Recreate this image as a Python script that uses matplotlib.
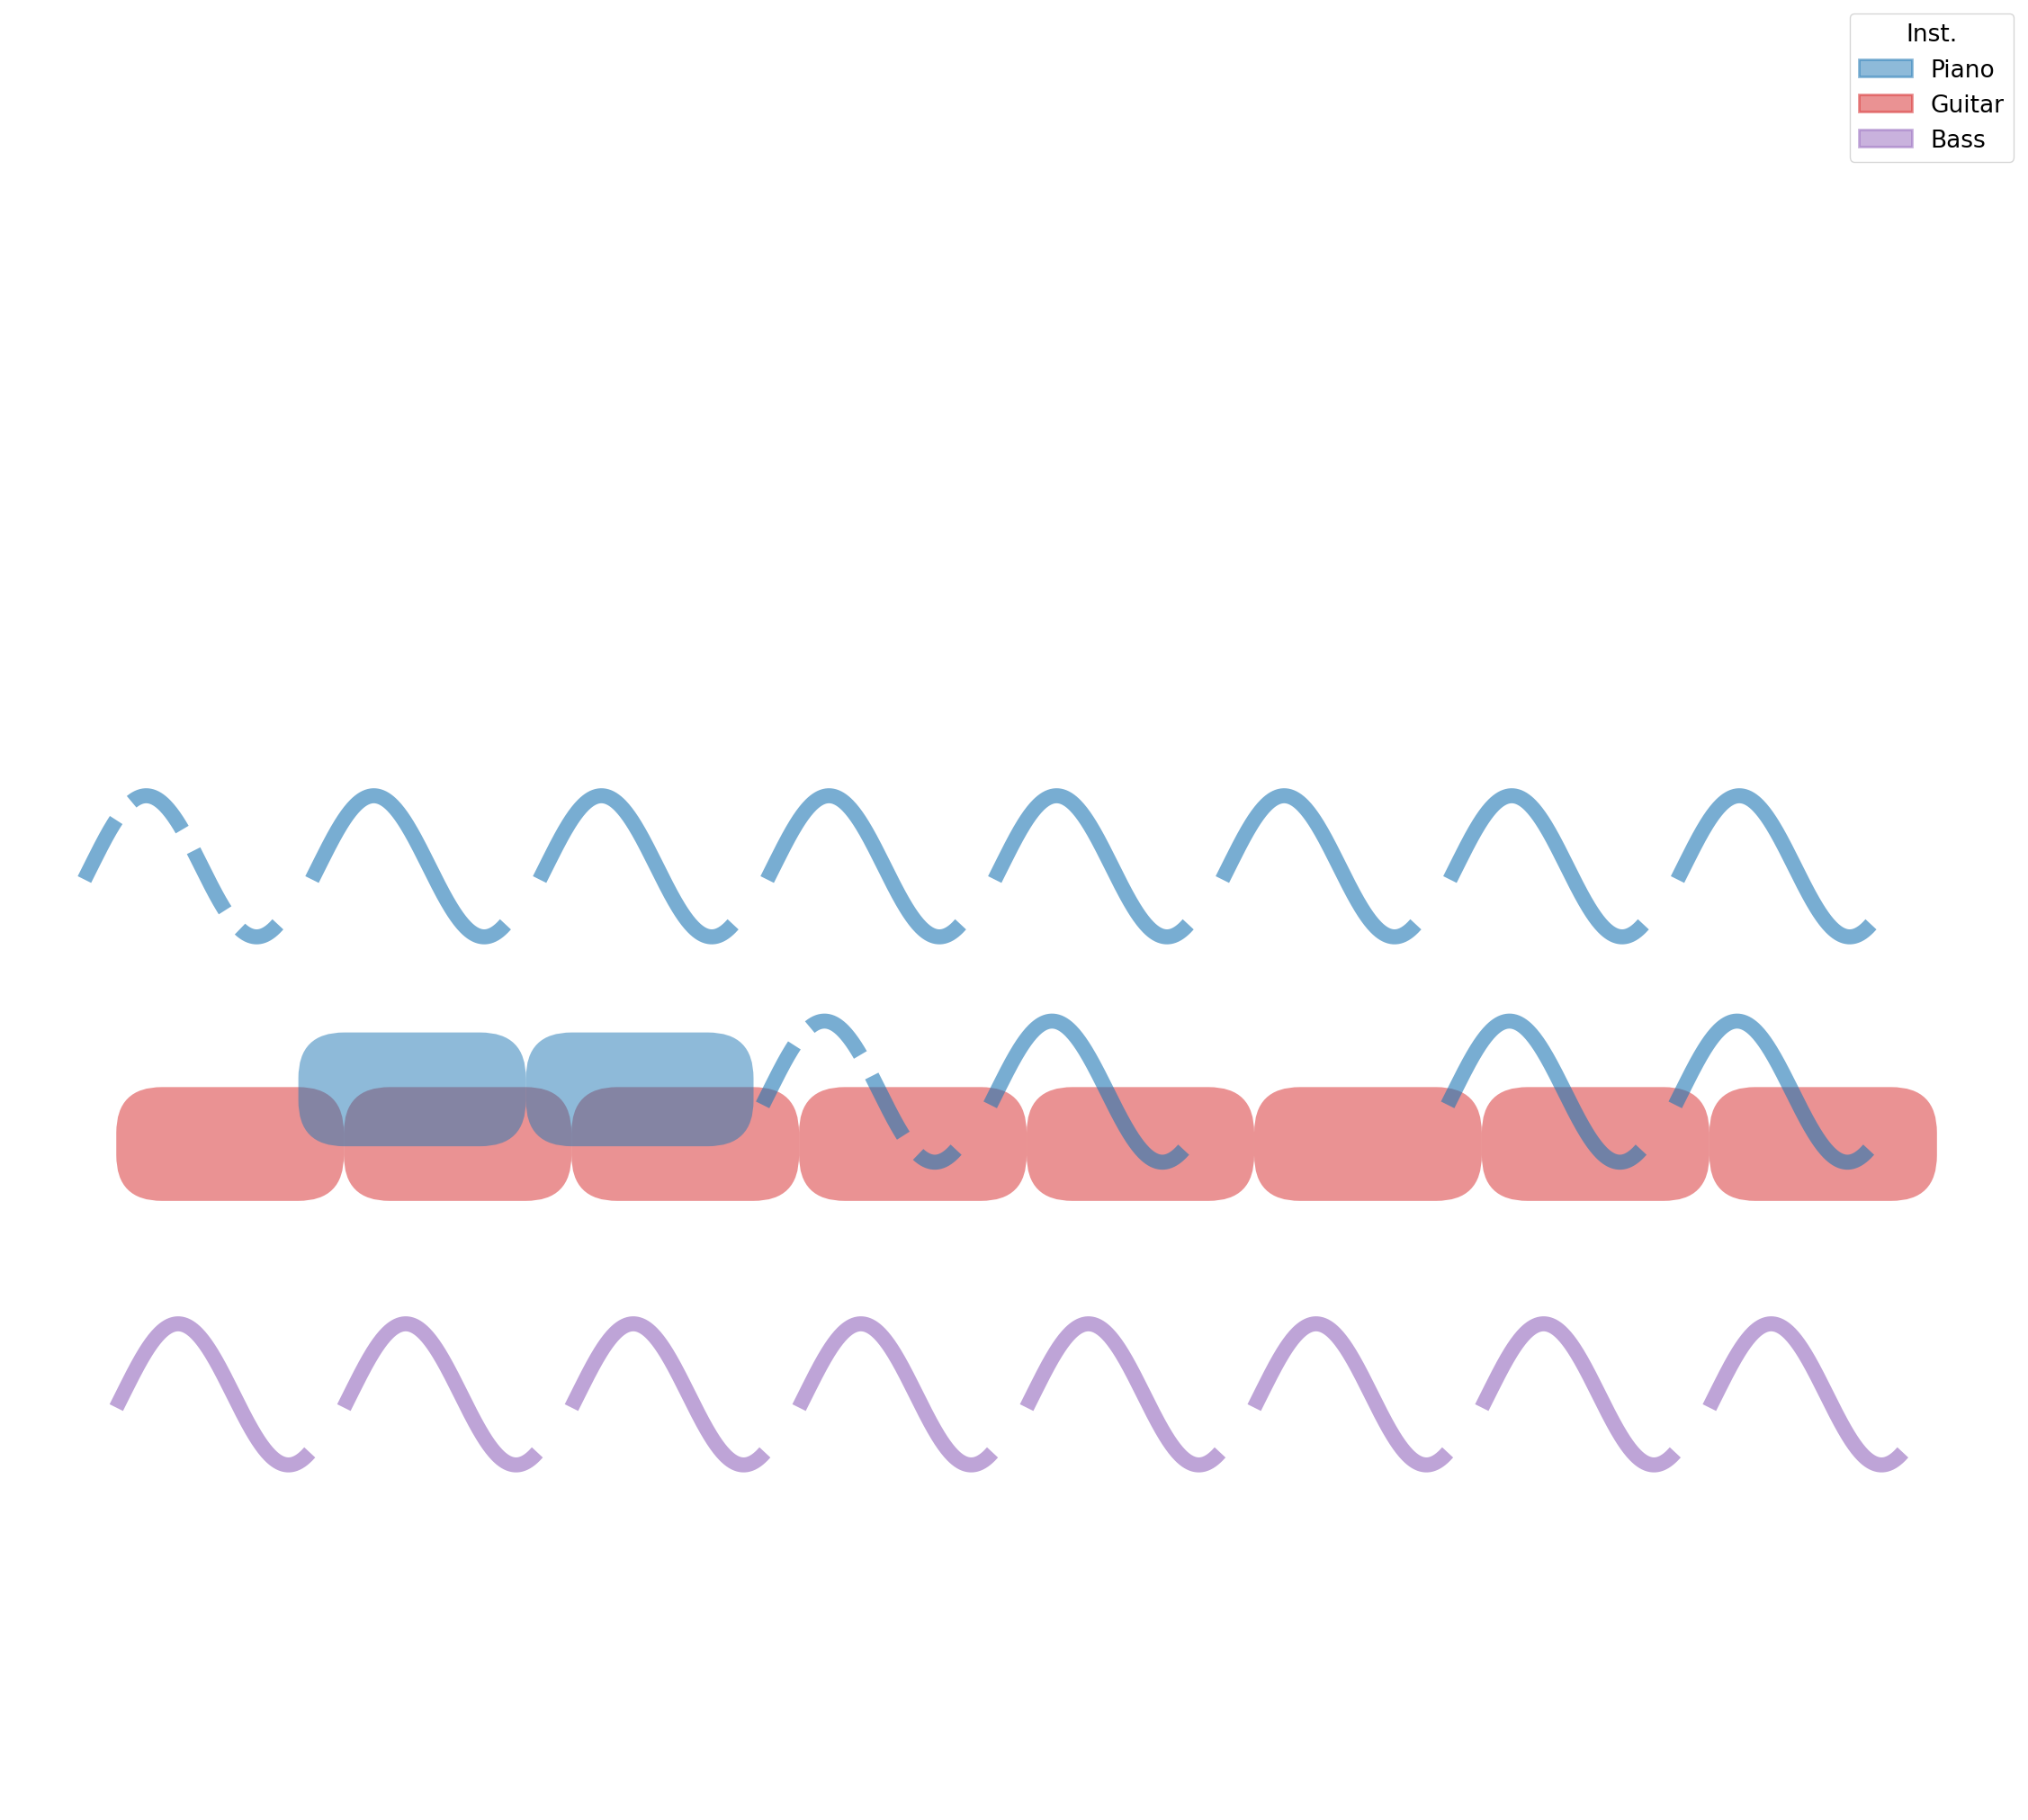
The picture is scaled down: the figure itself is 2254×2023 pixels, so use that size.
import numpy as np
import matplotlib.pyplot as plt
from matplotlib.patches import FancyBboxPatch, Patch

# beats at which each note starts, and row (pitch level) per instrument
piano_high_starts = [-0.14, 0.86, 1.86, 2.86, 3.86, 4.86, 5.86, 6.86]
piano_high_dashed = [True, False, False, False, False, False, False, False]
piano_low_starts = [2.84, 3.84, 5.85, 6.85]
piano_low_dashed = [True, False, False, False]
piano_box_starts = [0.8, 1.8]
guitar_box_starts = [0, 1, 2, 3, 4, 5, 6, 7]
bass_starts = [0, 1, 2, 3, 4, 5, 6, 7]

piano_high_row = 4.19
piano_low_row = 3.20
guitar_row = 2.97
bass_row = 1.87

colors = {"Piano": "#1f77b4", "Guitar": "#d62728", "Bass": "#9467bd"}


def wave(ax, x0, y0, color, dashed=False):
    t = np.linspace(0, 0.85, 200)
    x = x0 + t
    y = y0 + 0.31 * np.sin(2 * np.pi * (t / 0.97 - 0.03))
    ax.plot(x, y, color=color, alpha=0.6, lw=12,
            linestyle=(0, (4.5, 1.6)) if dashed else "-",
            solid_capstyle="butt", dash_capstyle="butt")


def box(ax, x0, y0, color):
    p = FancyBboxPatch((x0 + 0.2, y0 - 0.25 + 0.0), 0.58, 0.5 - 0.0,
                       boxstyle="round,pad=0.2,rounding_size=0.2",
                       fc=color, ec="none", alpha=0.5)
    p.set_boxstyle("round", pad=0.0, rounding_size=0.2)
    p.set_bounds(x0, y0 - 0.25, 1.0, 0.5)
    ax.add_patch(p)


fig = plt.figure(figsize=(22.54, 20.24), dpi=100)
ax = fig.add_axes([0, 0, 1, 1])
ax.set_xlim(-0.511, 8.40)
ax.set_ylim(0, 8.0)
ax.axis("off")

for s in guitar_box_starts:
    box(ax, s, guitar_row, colors["Guitar"])
for s in piano_box_starts:
    box(ax, s, piano_low_row + 0.01, colors["Piano"])
for s, d in zip(piano_high_starts, piano_high_dashed):
    wave(ax, s, piano_high_row, colors["Piano"], d)
for s, d in zip(piano_low_starts, piano_low_dashed):
    wave(ax, s, piano_low_row, colors["Piano"], d)
for s in bass_starts:
    wave(ax, s, bass_row, colors["Bass"])

handles = [Patch(fc=c, ec=c, alpha=0.5, lw=2, label=k) for k, c in colors.items()]
ax.legend(handles=handles, title="Inst.", loc="upper right", fontsize=19,
          title_fontsize=19, borderaxespad=0.6, handlelength=2.2)

fig.savefig("out.png", dpi=100)
